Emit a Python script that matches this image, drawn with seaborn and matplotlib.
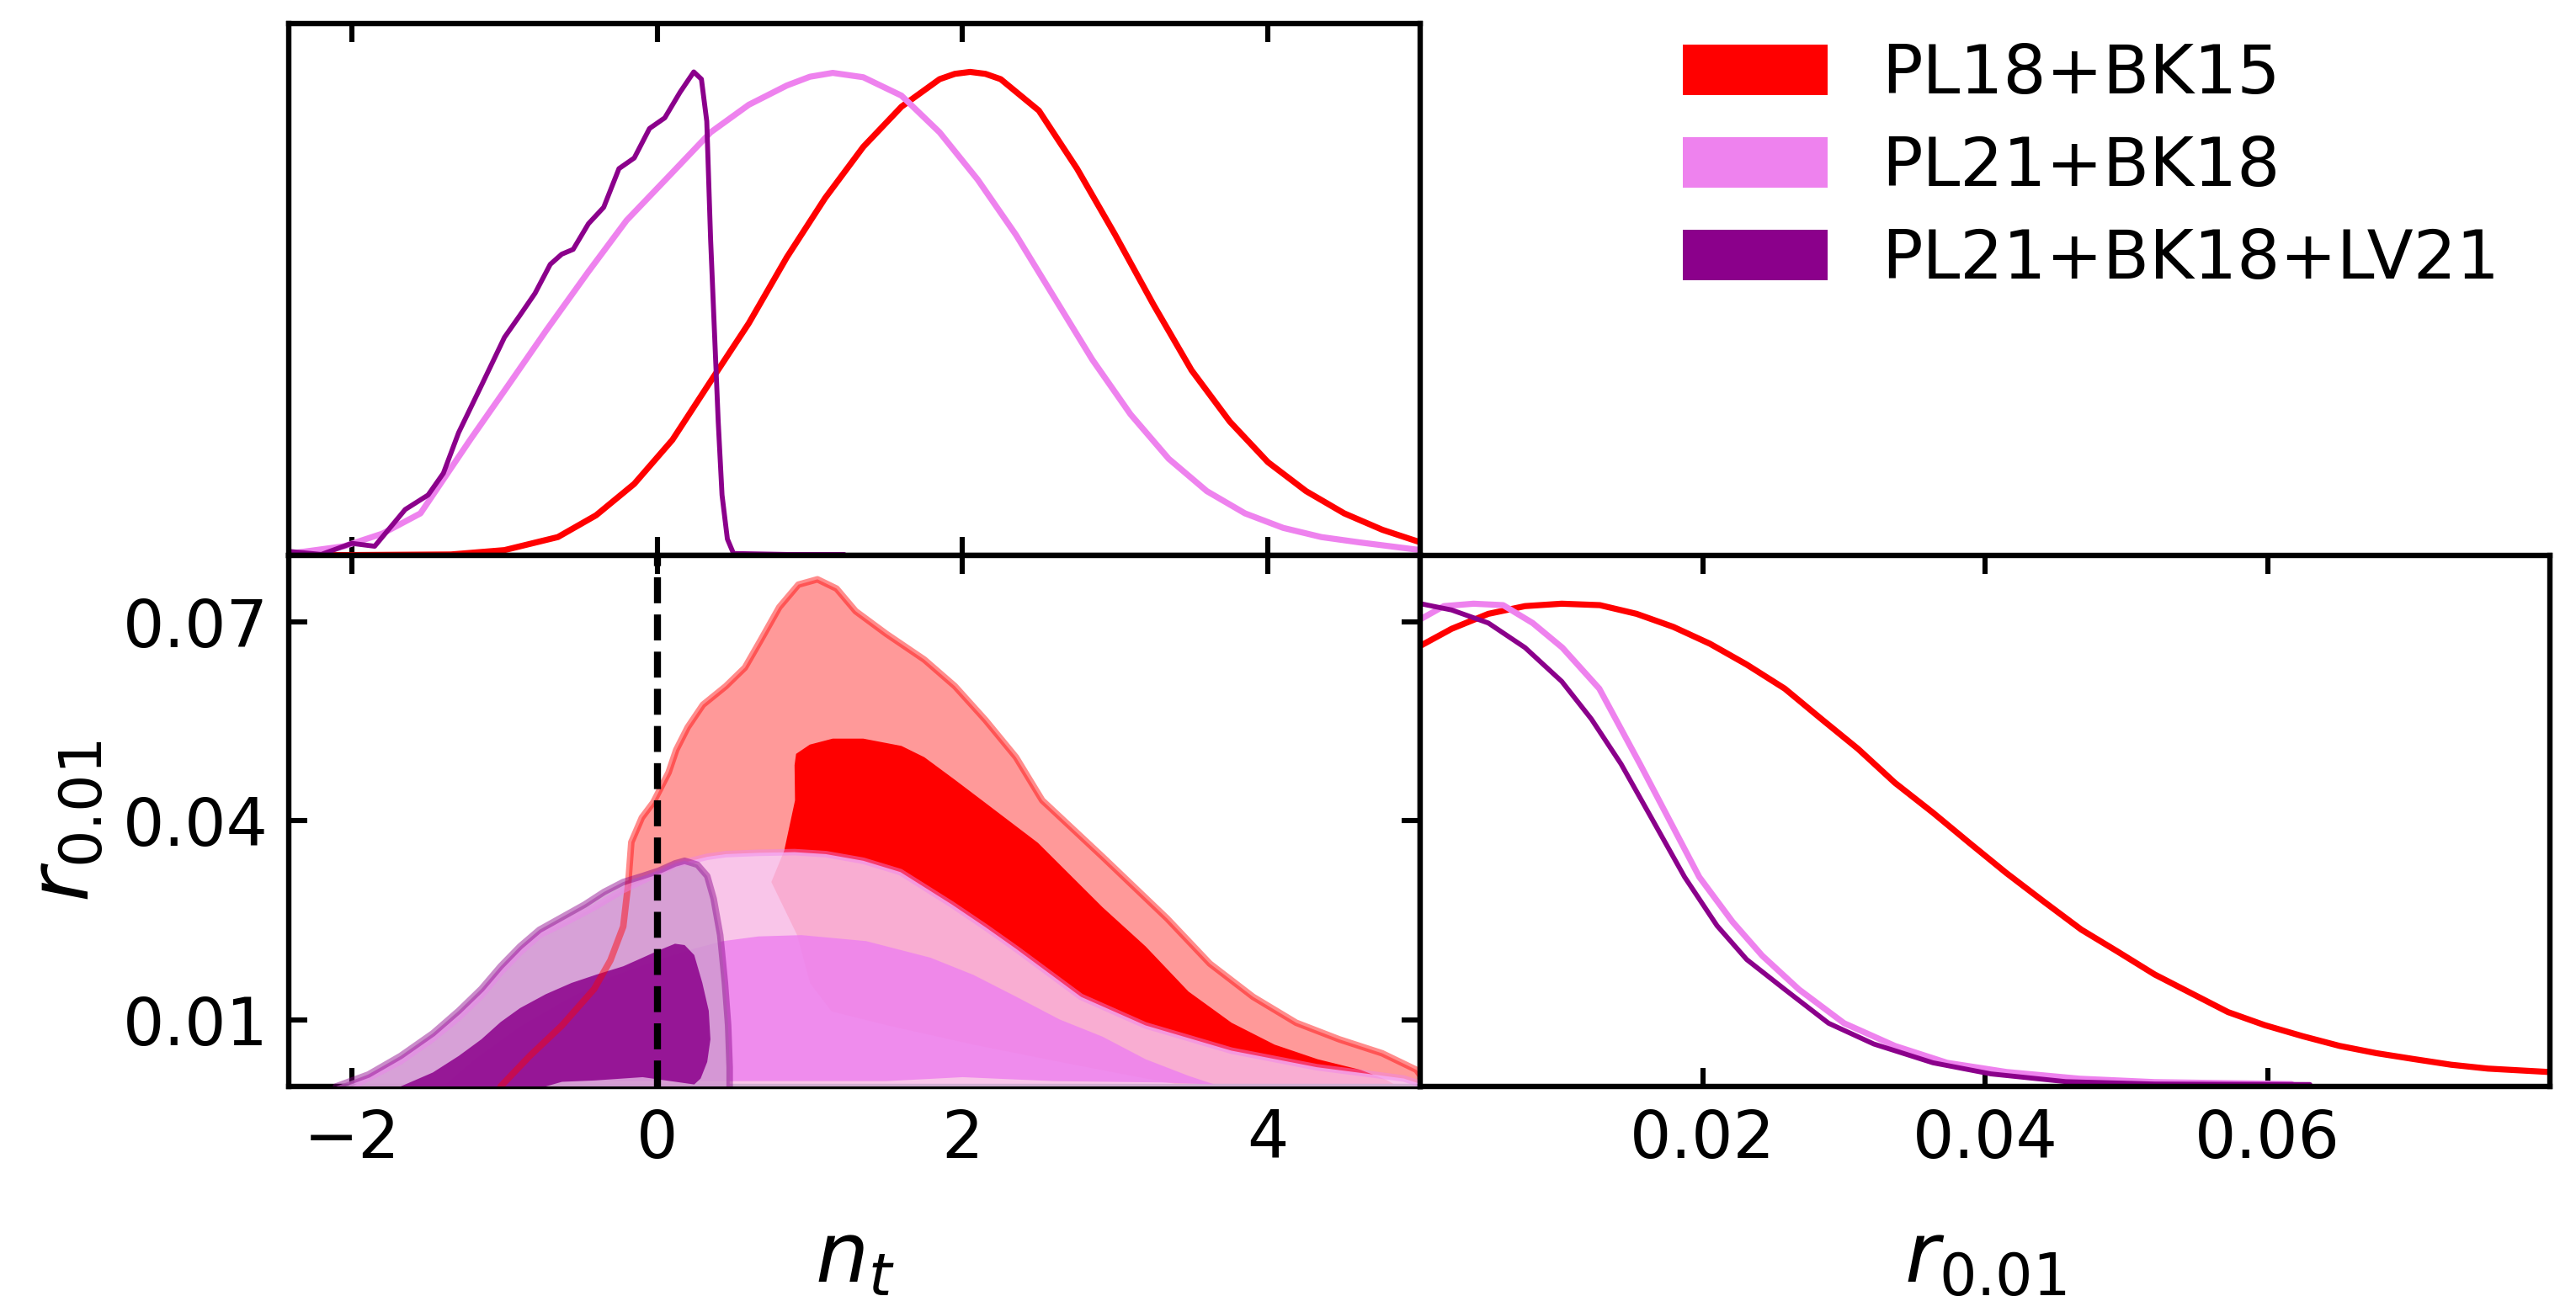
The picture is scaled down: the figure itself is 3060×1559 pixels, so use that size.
import numpy as np
import pandas as pd
import matplotlib
matplotlib.use("Agg")
import matplotlib.pyplot as plt
from matplotlib.patches import Patch
import seaborn as sns

# series names and colours
labels = ['PL18+BK15', 'PL21+BK18', 'PL21+BK18+LV21']
colors = ['#FF0000', '#EE82EE', '#8B008B']

# 1D marginal of n_t (normalised to peak = 1)
red_nt_x = [-2.4, -1.35, -1.0, -0.65, -0.4, -0.15, 0.1, 0.35, 0.6, 0.85, 1.1, 1.35, 1.6, 1.85,
            1.95, 2.05, 2.15, 2.25, 2.5, 2.75, 3.0, 3.25, 3.5, 3.75, 4.0, 4.25, 4.5, 4.75, 5.0]
red_nt_p = [0.0, 0.002, 0.011, 0.038, 0.083, 0.148, 0.239, 0.36, 0.48, 0.617, 0.739, 0.845, 0.928, 0.985,
            0.996, 1.0, 0.996, 0.985, 0.92, 0.8, 0.663, 0.519, 0.383, 0.277, 0.193, 0.133, 0.087, 0.053, 0.027]
violet_nt_x = [-2.4, -2.05, -1.8, -1.55, -1.225, -0.975, -0.725, -0.45, -0.2, 0.1, 0.35, 0.6, 0.85, 1.0,
               1.15, 1.35, 1.6, 1.85, 2.1, 2.35, 2.6, 2.85, 3.1, 3.35, 3.6, 3.85, 4.1, 4.35, 4.6, 5.0]
violet_nt_p = [0.004, 0.019, 0.045, 0.087, 0.239, 0.352, 0.466, 0.587, 0.693, 0.792, 0.875, 0.932, 0.972, 0.99,
               0.998, 0.989, 0.951, 0.875, 0.777, 0.663, 0.534, 0.405, 0.292, 0.2, 0.133, 0.087, 0.057,
               0.038, 0.027, 0.011]
purple_nt_x = [-2.4, -2.2, -2.0, -1.85, -1.65, -1.5, -1.4, -1.3, -1.15, -1.0, -0.9, -0.8, -0.7, -0.625,
               -0.55, -0.45, -0.35, -0.25, -0.15, -0.05, 0.05, 0.15, 0.24, 0.29, 0.325, 0.35, 0.375, 0.4,
               0.425, 0.46, 0.5, 0.85, 1.225]
purple_nt_p = [0.008, 0.002, 0.025, 0.019, 0.095, 0.125, 0.17, 0.254, 0.352, 0.451, 0.496, 0.542, 0.602, 0.623,
               0.633, 0.686, 0.72, 0.8, 0.822, 0.883, 0.905, 0.958, 1.0, 0.985, 0.898, 0.655, 0.466, 0.277,
               0.125, 0.034, 0.004, 0.002, 0.002]

# 1D marginal of r_0.01
red_r_x = [0.0, 0.0022, 0.0048, 0.0074, 0.01, 0.0127, 0.0153, 0.0179, 0.0205, 0.0231, 0.0258, 0.0284,
           0.031, 0.0336, 0.0363, 0.0389, 0.0415, 0.0441, 0.0468, 0.0494, 0.052, 0.0546, 0.0572, 0.0598,
           0.0625, 0.0651, 0.0677, 0.0703, 0.073, 0.0756, 0.0799]
red_r_p = [0.913, 0.948, 0.979, 0.995, 1.0, 0.997, 0.979, 0.952, 0.917, 0.874, 0.824, 0.761,
           0.699, 0.629, 0.567, 0.504, 0.442, 0.384, 0.325, 0.279, 0.232, 0.193, 0.154, 0.127,
           0.104, 0.084, 0.069, 0.057, 0.045, 0.037, 0.03]
violet_r_x = [0.0, 0.00165, 0.00375, 0.00585, 0.00794, 0.01004, 0.01266, 0.01554, 0.01764, 0.01974,
              0.0221, 0.0242, 0.0268, 0.03, 0.0336, 0.0373, 0.0415, 0.0467, 0.052, 0.0617]
violet_r_p = [0.968, 0.995, 1.0, 0.997, 0.96, 0.909, 0.824, 0.668, 0.551, 0.434,
              0.341, 0.271, 0.201, 0.131, 0.084, 0.049, 0.03, 0.016, 0.009, 0.005]
purple_r_x = [0.0, 0.0022, 0.0048, 0.0074, 0.01, 0.0121, 0.0142, 0.0163, 0.0187, 0.021, 0.0231,
              0.0258, 0.0289, 0.0321, 0.0363, 0.0404, 0.0457, 0.052, 0.063]
purple_r_p = [1.0, 0.987, 0.96, 0.909, 0.839, 0.761, 0.668, 0.559, 0.434, 0.333, 0.263,
              0.201, 0.131, 0.088, 0.049, 0.026, 0.01, 0.005, 0.004]

# 2D contours (n_t, r_0.01): outer (95%) and inner (68%) regions
red_out_n = [-1.025, -0.834, -0.623, -0.412, -0.306, -0.222, -0.19, -0.169, -0.1, -0.025, 0.075, 0.125,
             0.2, 0.3, 0.45, 0.575, 0.675, 0.8, 0.925, 1.05, 1.175, 1.3, 1.5, 1.75, 1.95, 2.15, 2.35,
             2.522, 2.917, 3.34, 3.62, 3.903, 4.185, 4.467, 4.748, 4.973, 5.05]
red_out_r = [0.0, 0.0046, 0.0092, 0.0147, 0.019, 0.0241, 0.0304, 0.0368, 0.0405, 0.0428, 0.0473, 0.0507,
             0.0541, 0.0575, 0.0603, 0.0631, 0.0671, 0.0722, 0.0756, 0.0764, 0.075, 0.0716, 0.0682, 0.0643,
             0.0603, 0.0552, 0.0496, 0.0431, 0.0346, 0.0253, 0.0185, 0.0135, 0.0096, 0.0071, 0.005, 0.0025, 0.0]
red_in_n = [0.9, 0.91, 1.0, 1.15, 1.35, 1.6, 1.75, 1.95, 2.128, 2.494, 2.917, 3.199, 3.48, 3.762, 4.044,
            4.326, 4.607, 4.776, 4.85, 3.48, 3.199, 2.635, 2.072, 1.508, 1.142, 1.001, 0.917, 0.748,
            0.832, 0.903]
red_in_r = [0.0484, 0.0501, 0.0515, 0.0524, 0.0524, 0.0513, 0.0496, 0.0462, 0.0431, 0.0367, 0.027, 0.0211,
            0.0143, 0.0096, 0.0063, 0.0041, 0.0025, 0.001, 0.0, 0.0, 0.0012, 0.0037, 0.0063, 0.0092,
            0.0113, 0.0156, 0.0228, 0.0308, 0.0355, 0.0431]
violet_out_n = [-1.997, -1.68, -1.469, -1.299, -1.151, -1.025, -0.898, -0.771, -0.602, -0.412, -0.222,
                -0.031, 0.117, 0.328, 0.45, 0.664, 0.9, 1.105, 1.35, 1.593, 1.931, 2.15, 2.353, 2.776,
                3.198, 3.76, 4.32, 4.89, 5.05]
violet_out_r = [0.0, 0.0038, 0.0072, 0.0104, 0.0137, 0.0172, 0.0202, 0.0228, 0.0247, 0.027, 0.0296,
                0.0317, 0.0334, 0.0346, 0.035, 0.0352, 0.0353, 0.035, 0.034, 0.0323, 0.0274, 0.024, 0.0207,
                0.0135, 0.0092, 0.0054, 0.0029, 0.0012, 0.0]
violet_in_n = [-1.4, -1.2, -0.9, -0.6, -0.3, 0.0, 0.25, 0.433, 0.663, 0.945, 1.368, 1.79, 2.072, 2.353,
               2.635, 2.917, 3.199, 3.48, 3.65, 3.3, 2.6, 2.0, 1.5, 0.5, -0.5, -1.1]
violet_in_r = [0.0, 0.004, 0.009, 0.013, 0.0165, 0.019, 0.0208, 0.0219, 0.0226, 0.0228, 0.0219, 0.0194,
               0.0168, 0.0135, 0.0101, 0.0075, 0.0041, 0.0016, 0.0003, 0.0006, 0.0008, 0.0014, 0.0008,
               0.0008, 0.0008, 0.0003]
purple_out_n = [-2.103, -1.891, -1.68, -1.469, -1.299, -1.151, -1.025, -0.898, -0.771, -0.623, -0.475,
                -0.348, -0.222, -0.095, 0.011, 0.117, 0.18, 0.264, 0.328, 0.37, 0.413, 0.444, 0.465,
                0.475, 0.475]
purple_out_r = [0.0, 0.0018, 0.0046, 0.008, 0.0114, 0.0147, 0.0181, 0.0211, 0.0236, 0.0255, 0.0274,
                0.0293, 0.0308, 0.0317, 0.0325, 0.0336, 0.034, 0.0334, 0.0317, 0.0283, 0.0228, 0.0156,
                0.0092, 0.0029, 0.0]
purple_in_n = [-1.68, -1.469, -1.299, -1.151, -1.025, -0.898, -0.729, -0.56, -0.391, -0.222, -0.095,
               0.011, 0.117, 0.18, 0.243, 0.296, 0.338, 0.349, 0.328, 0.285, 0.243, -0.095, -0.412,
               -0.623, -0.729]
purple_in_r = [0.0, 0.0021, 0.0046, 0.0071, 0.0097, 0.0118, 0.0139, 0.0156, 0.0169, 0.0181, 0.0194,
               0.0205, 0.0215, 0.0213, 0.0198, 0.0156, 0.0114, 0.0071, 0.0037, 0.0012, 0.0003, 0.0014,
               0.0009, 0.0007, 0.0]

nt_ticks = [-2, 0, 2, 4]
r_ticks = [0.01, 0.04, 0.07]
r1d_ticks = [0.02, 0.04, 0.06]


def lighter(c, frac=0.4):
    rgb = np.array(matplotlib.colors.to_rgb(c))
    return tuple(frac * rgb + (1 - frac))


sns.set_style("ticks")
plt.rcParams['font.family'] = ['DejaVu Sans']
plt.rcParams['mathtext.fontset'] = 'dejavusans'
plt.rcParams['text.color'] = 'black'
plt.rcParams['axes.labelcolor'] = 'black'
plt.rcParams['axes.edgecolor'] = 'black'

fig = plt.figure(figsize=(15.3, 7.795), dpi=200)
ax_top = fig.add_axes([0.11225, 0.57665, 0.43922, 0.40539])
ax_2d = fig.add_axes([0.11225, 0.17191, 0.43922, 0.40475])
ax_r = fig.add_axes([0.55147, 0.17191, 0.43840, 0.40475])

for ax in (ax_top, ax_2d, ax_r):
    for s in ax.spines.values():
        s.set_linewidth(2.3)
        s.set_color('black')
    ax.tick_params(direction='in', length=7.8, width=2.2, labelsize=28, pad=9,
                   top=True, right=True, colors='black')

# top panel: n_t marginals
lws = [2.6, 2.6, 2.1]
for xs, ps, c, lw in zip([red_nt_x, violet_nt_x, purple_nt_x], [red_nt_p, violet_nt_p, purple_nt_p], colors, lws):
    sns.lineplot(x=xs, y=ps, color=c, ax=ax_top, sort=False, estimator=None)
    ax_top.lines[-1].set_linewidth(lw)
ax_top.set_xlim(-2.41, 5.0)
ax_top.set_ylim(0, 1.1)
ax_top.set_xticks(nt_ticks)
ax_top.set_yticks([])
ax_top.tick_params(labelbottom=False, labelleft=False, left=False, right=False)

# bottom-right panel: r marginals
for xs, ps, c, lw in zip([red_r_x, violet_r_x, purple_r_x], [red_r_p, violet_r_p, purple_r_p], colors, lws):
    sns.lineplot(x=xs, y=ps, color=c, ax=ax_r, sort=False, estimator=None)
    ax_r.lines[-1].set_linewidth(lw)
ax_r.set_xlim(0, 0.08)
ax_r.set_ylim(0, 1.1)
ax_r.set_xticks(r1d_ticks)
ax_r.set_xticklabels(['%.2f' % t for t in r1d_ticks])
ax_r.set_yticks([])
ax_r.tick_params(left=False, right=False, labelleft=False)
ax_r.set_xlabel(r'$r_{0.01}$', fontsize=36, labelpad=20)

# 2D panel
outers = [(red_out_n, red_out_r), (violet_out_n, violet_out_r), (purple_out_n, purple_out_r)]
inners = [(red_in_n, red_in_r), (violet_in_n, violet_in_r), (purple_in_n, purple_in_r)]
alphas = [1.0, 0.85, 0.85]
z = 1
for (on, orr), (inn, inr), c, a in zip(outers, inners, colors, alphas):
    ax_2d.fill(on, orr, color=lighter(c), alpha=a, lw=0, zorder=z)
    ax_2d.fill(inn, inr, color=c, alpha=a, lw=0, zorder=z + 1)
    z += 2
for (on, orr), c in zip(outers, colors):
    ax_2d.plot(on, orr, color=c, alpha=0.45, lw=2.8, zorder=8)

ax_2d.axvline(0, color='black', ls='--', lw=3, zorder=9)
ax_2d.set_xlim(-2.41, 5.0)
ax_2d.set_ylim(0, 0.08)
ax_2d.set_xticks(nt_ticks)
ax_2d.set_yticks(r_ticks)
ax_2d.set_yticklabels(['%.2f' % t for t in r_ticks])
ax_2d.set_xlabel(r'$n_t$', fontsize=36, labelpad=20)
ax_2d.set_ylabel(r'$r_{0.01}$', fontsize=36, labelpad=7)

handles = [Patch(facecolor=c, edgecolor='none') for c in colors]
fig.legend(handles, labels, loc='upper left', bbox_to_anchor=(0.6533, 0.968), frameon=False,
           fontsize=29, handlelength=2.13, handleheight=0.77, handletextpad=0.8,
           labelspacing=0.4, borderpad=0, borderaxespad=0)

fig.savefig('out.png', dpi=200)
